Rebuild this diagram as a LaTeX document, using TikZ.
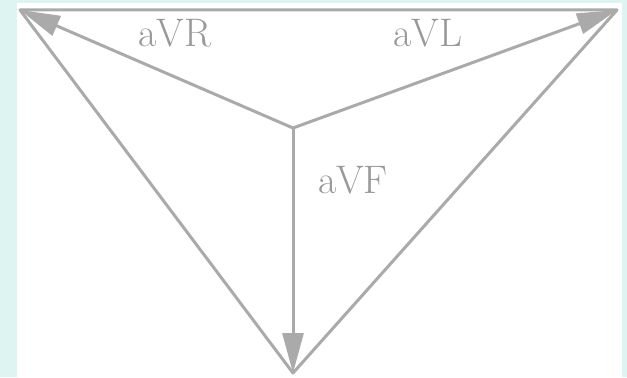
\documentclass[tikz,border=0pt]{standalone}
\usepackage{tikz}
\usetikzlibrary{arrows.meta}
\definecolor{leadgray}{HTML}{AAAAAA}
\definecolor{framecyan}{HTML}{DDF4F2}

\begin{document}
\begin{tikzpicture}[
x=1bp, y=1bp,
edge/.style={draw=leadgray, line width=3bp, line join=round},
arrow/.style={-{Triangle[length=40bp, width=21bp]}, draw=leadgray, line width=3bp},
lbl/.style={text=leadgray!90!black, font=\fontsize{40}{44}\selectfont, inner sep=0pt}
]
% frame
\fill[framecyan] (0,0) rectangle (627,377);
\fill[white] (17,0) rectangle (622,374);
\useasboundingbox (0,0) rectangle (627,377);

\coordinate (rcorner) at (20,367);
\coordinate (lcorner) at (617,367);
\coordinate (fcorner) at (293,4);
\coordinate (centre) at (293,249);

% triangle
\draw[edge] (rcorner) -- (lcorner) -- (fcorner) -- cycle;

% lead vectors
\draw[arrow] (centre) -- (rcorner);
\draw[arrow] (centre) -- (lcorner);
\draw[arrow] (centre) -- (fcorner);

\node[lbl] (avr) at (175,344) {aVR};
\node[lbl] (avl) at (428,344) {aVL};
\node[lbl] (avf) at (353,197) {aVF};
\end{tikzpicture}
\end{document}
